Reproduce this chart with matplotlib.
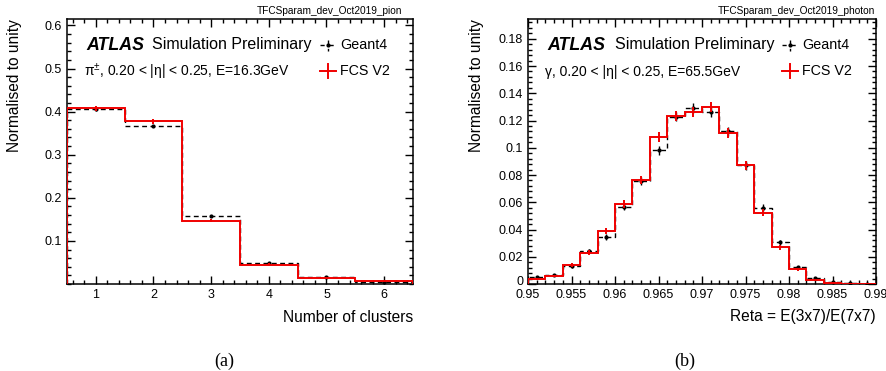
import numpy as np
import matplotlib
matplotlib.use("Agg")
import matplotlib.pyplot as plt
import matplotlib.transforms as mtransforms
from matplotlib.lines import Line2D
from matplotlib.ticker import MultipleLocator

# ---------------- data ----------------
# Panel (a): number of clusters, pion
clusters_edges = [0.5, 1.5, 2.5, 3.5, 4.5, 5.5, 6.5]
clusters_centers = [1, 2, 3, 4, 5, 6]
pion_geant4 = [0.405, 0.367, 0.158, 0.048, 0.017, 0.005]
pion_geant4_err = [0.003, 0.003, 0.002, 0.0015, 0.001, 0.0008]
pion_fcs = [0.408, 0.378, 0.147, 0.045, 0.013, 0.006]
pion_fcs_err = [0.006, 0.006, 0.004, 0.003, 0.002, 0.0015]

# Panel (b): Reta, photon
reta_edges = [0.950, 0.952, 0.954, 0.956, 0.958, 0.960, 0.962, 0.964, 0.966, 0.968, 0.970,
              0.972, 0.974, 0.976, 0.978, 0.980, 0.982, 0.984, 0.986, 0.988, 0.990]
reta_centers = [0.951, 0.953, 0.955, 0.957, 0.959, 0.961, 0.963, 0.965, 0.967, 0.969,
                0.971, 0.973, 0.975, 0.977, 0.979, 0.981, 0.983, 0.985, 0.987, 0.989]
photon_geant4 = [0.0054, 0.0068, 0.0130, 0.0243, 0.0345, 0.0564, 0.0757, 0.0980, 0.1228, 0.1290,
                 0.1264, 0.1122, 0.0870, 0.0560, 0.0306, 0.0123, 0.0042, 0.0012, 0.0005, 0.0002]
photon_geant4_err = [0.0008, 0.0009, 0.0012, 0.0016, 0.0019, 0.0024, 0.0027, 0.0031, 0.0035, 0.0036,
                     0.0035, 0.0033, 0.0030, 0.0024, 0.0018, 0.0011, 0.0007, 0.0004, 0.0002, 0.0001]
photon_fcs = [0.0035, 0.0059, 0.0140, 0.0230, 0.0390, 0.0586, 0.0762, 0.1078, 0.1232, 0.1264,
              0.1300, 0.1110, 0.0870, 0.0524, 0.0270, 0.0108, 0.0030, 0.0010, 0.0003, 0.0002]
photon_fcs_err = [0.0007, 0.0009, 0.0013, 0.0017, 0.0022, 0.0027, 0.0030, 0.0036, 0.0038, 0.0038,
                  0.0039, 0.0036, 0.0032, 0.0025, 0.0018, 0.0011, 0.0006, 0.0003, 0.0002, 0.0001]

# ---------------- style ----------------
W, H = 887, 371
plt.rcParams['font.family'] = ['Liberation Sans', 'DejaVu Sans']
plt.rcParams['mathtext.fontset'] = 'custom'
plt.rcParams['mathtext.rm'] = 'Liberation Sans'
plt.rcParams['mathtext.it'] = 'Liberation Sans:italic'

fig = plt.figure(figsize=(W / 100, H / 100), dpi=100)

def fx(px):
    return px / W

def fy(py):
    return 1 - py / H

RED = '#f00000'

def setup_axes(ax):
    ax.tick_params(which='both', direction='in', top=True, right=True,
                   labelsize=9, width=1.0, colors='black')
    ax.tick_params(which='major', length=6)
    ax.tick_params(which='minor', length=3)
    for s in ax.spines.values():
        s.set_linewidth(1.1)

def draw_panel(ax, edges, centers, g4, g4err, fcs, fcserr):
    ax.stairs(g4, edges, color='black', lw=1.0, linestyle=(0, (3.5, 2.5)), zorder=2)
    ax.errorbar(centers, g4, yerr=g4err, fmt='o', color='black', ms=2.0,
                elinewidth=1.0, capsize=0, zorder=3)
    ax.stairs(fcs, edges, color=RED, lw=1.4, zorder=4)
    ax.errorbar(centers, fcs, yerr=fcserr, fmt='none', ecolor=RED,
                elinewidth=1.4, capsize=0, zorder=5)

def legend_and_text(x_atlas, x_sim, x_leg, x_legtxt, line2):
    y1, y2 = 45, 71
    fig.text(fx(x_atlas), fy(y1), 'ATLAS', fontsize=12.8, fontweight='bold',
             fontstyle='italic', va='center', ha='left')
    fig.text(fx(x_sim), fy(y1), 'Simulation Preliminary', fontsize=11.5,
             va='center', ha='left')
    fig.text(fx(x_atlas - 2), fy(y2 + 1), line2, fontsize=10, va='center', ha='left')
    # Geant4 legend symbol: dashed horizontal with small vertical error and dot
    fig.add_artist(Line2D([fx(x_leg - 8), fx(x_leg + 8)], [fy(y1), fy(y1)],
                          color='black', lw=1.0, linestyle=(0, (3, 3.5))))
    fig.add_artist(Line2D([fx(x_leg), fx(x_leg)], [fy(y1 - 5), fy(y1 + 6)],
                          color='black', lw=1.0, linestyle=(0, (4, 2))))
    fig.add_artist(Line2D([fx(x_leg)], [fy(y1)], color='black', marker='o', ms=2))
    fig.text(fx(x_legtxt), fy(y1), 'Geant4', fontsize=10.3, va='center', ha='left')
    # FCS legend symbol: red cross
    fig.add_artist(Line2D([fx(x_leg - 8), fx(x_leg + 8)], [fy(y2), fy(y2)],
                          color=RED, lw=1.4))
    fig.add_artist(Line2D([fx(x_leg), fx(x_leg)], [fy(y2 - 7), fy(y2 + 7)],
                          color=RED, lw=1.4))
    fig.text(fx(x_legtxt), fy(y2), 'FCS V2', fontsize=10.3, va='center', ha='left')

# ---------------- panel (a) ----------------
axa = fig.add_axes([fx(67), fy(284), fx(413) - fx(67), fy(19) - fy(284)])
draw_panel(axa, clusters_edges, clusters_centers, pion_geant4, pion_geant4_err,
           pion_fcs, pion_fcs_err)
axa.set_xlim(0.5, 6.5)
axa.set_ylim(0.0, 0.615)
axa.set_xticks([1, 2, 3, 4, 5, 6])
axa.xaxis.set_minor_locator(MultipleLocator(0.2))
axa.set_yticks([0.1, 0.2, 0.3, 0.4, 0.5, 0.6])
axa.set_yticklabels(['0.1', '0.2', '0.3', '0.4', '0.5', '0.6'])
axa.yaxis.set_minor_locator(MultipleLocator(0.02))
setup_axes(axa)
fig.text(fx(15), fy(19), 'Normalised to unity', rotation=90, fontsize=11.2,
         ha='center', va='top')
fig.text(fx(413), fy(317), 'Number of clusters', fontsize=11.2, ha='right', va='center')
fig.text(fx(402), fy(11), 'TFCSparam_dev_Oct2019_pion', fontsize=7.3, ha='right', va='center')
legend_and_text(86, 152, 328, 340, 'π$^{\\pm}$, 0.20 < |η| < 0.25, E=16.3GeV')
fig.text(fx(224), fy(361), '(a)', fontsize=13, family='Liberation Serif',
         ha='center', va='center')

# ---------------- panel (b) ----------------
axb = fig.add_axes([fx(528), fy(284), fx(876) - fx(528), fy(19) - fy(284)])
draw_panel(axb, reta_edges, reta_centers, photon_geant4, photon_geant4_err,
           photon_fcs, photon_fcs_err)
axb.set_xlim(0.95, 0.99)
axb.set_ylim(0.0, 0.1945)
xt = [0.95, 0.955, 0.96, 0.965, 0.97, 0.975, 0.98, 0.985, 0.99]
axb.set_xticks(xt)
axb.set_xticklabels(['0.95', '0.955', '0.96', '0.965', '0.97', '0.975', '0.98', '0.985', '0.99'])
axb.xaxis.set_minor_locator(MultipleLocator(0.001))
yt = [0, 0.02, 0.04, 0.06, 0.08, 0.1, 0.12, 0.14, 0.16, 0.18]
axb.set_yticks(yt)
axb.set_yticklabels(['0', '0.02', '0.04', '0.06', '0.08', '0.1', '0.12', '0.14', '0.16', '0.18'])
axb.yaxis.set_minor_locator(MultipleLocator(0.004))
setup_axes(axb)
# nudge the "0" label up slightly so it does not collide with "0.95"
zero_lbl = axb.get_yticklabels()[0]
zero_lbl.set_transform(zero_lbl.get_transform() +
                       mtransforms.ScaledTranslation(0, 2.5 / 72, fig.dpi_scale_trans))
fig.text(fx(477), fy(19), 'Normalised to unity', rotation=90, fontsize=11.2,
         ha='center', va='top')
fig.text(fx(876), fy(317), 'Reta = E(3x7)/E(7x7)', fontsize=11.2, ha='right', va='center')
fig.text(fx(875), fy(11), 'TFCSparam_dev_Oct2019_photon', fontsize=7.3, ha='right', va='center')
legend_and_text(547, 615, 790, 802, 'γ, 0.20 < |η| < 0.25, E=65.5GeV')
fig.text(fx(685), fy(361), '(b)', fontsize=13, family='Liberation Serif',
         ha='center', va='center')

fig.savefig('out.png', dpi=100)
